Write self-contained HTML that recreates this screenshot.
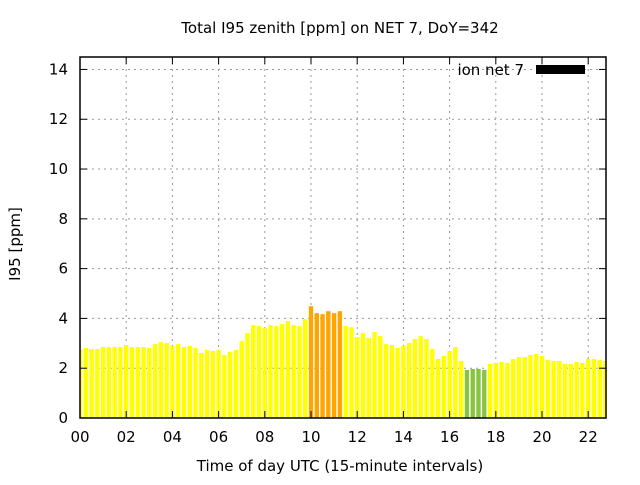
<!DOCTYPE html>
<html><head><meta charset="utf-8"><style>
body{margin:0;background:#fff}
svg text{font-family:"DejaVu Sans","Liberation Sans",sans-serif;font-size:15px;fill:#000}
</style></head><body>
<svg id="c" width="640" height="480" xmlns="http://www.w3.org/2000/svg">
<text x="340" y="33" text-anchor="middle">Total I95 zenith [ppm] on NET 7, DoY=342</text>
<text x="340" y="471" text-anchor="middle">Time of day UTC (15-minute intervals)</text>
<text transform="translate(20,244) rotate(-90)" text-anchor="middle">I95 [ppm]</text>
<g id="grid"></g><g id="bars"></g><g id="axes"></g>
<text x="524" y="75" text-anchor="end">ion net 7</text>
<rect x="536" y="65" width="49" height="9" fill="#000"/>
</svg>
<script>
const values=[2.77,2.81,2.77,2.77,2.85,2.85,2.85,2.85,2.93,2.85,2.85,2.85,2.81,2.97,3.05,3.01,2.89,2.97,2.85,2.89,2.81,2.61,2.73,2.69,2.73,2.53,2.65,2.73,3.09,3.41,
3.73,3.69,3.61,3.73,3.69,3.77,3.89,3.73,3.69,3.97,4.49,4.21,4.17,4.29,4.21,4.29,3.69,3.65,3.25,3.41,3.21,3.45,3.29,2.97,2.93,2.81,2.89,3.01,3.17,3.29,3.17,
2.77,2.37,2.49,2.69,2.85,2.29,1.93,1.97,1.97,1.93,2.17,2.21,2.25,2.21,2.37,2.45,2.45,2.53,2.57,2.49,2.33,2.29,2.29,2.17,2.17,2.25,2.21,2.37,2.37,2.33,2.29];
const yTicks=[0,2,4,6,8,10,12,14];
const xTicks=["00","02","04","06","08","10","12","14","16","18","20","22"];
const L=80,R=606,T=57,B=418,XMAX=22.77,YMAX=14.5;
const sx=h=>L+h*(R-L)/XMAX, sy=v=>B-v*(B-T)/YMAX;
const NS="http://www.w3.org/2000/svg";
function mk(tag,at,parent){const e=document.createElementNS(NS,tag);for(const k in at)e.setAttribute(k,at[k]);parent.appendChild(e);return e;}
const grid=document.getElementById('grid'),bars=document.getElementById('bars'),axes=document.getElementById('axes');
yTicks.forEach(v=>{const y=sy(v);
 if(v>0){const g=mk('line',{x1:L,x2:R,y1:y,y2:y,stroke:'#999','stroke-dasharray':'2,4'},grid);
 
 }
 mk('line',{x1:L,x2:L+7,y1:y,y2:y,stroke:'#000'},axes);mk('line',{x1:R,x2:R-7,y1:y,y2:y,stroke:'#000'},axes);
 const t=mk('text',{x:L-12,y:y+5,'text-anchor':'end'},axes);t.textContent=v;
 
 });
xTicks.forEach((s,i)=>{const x=sx(i*2);
 if(i>0){const g=mk('line',{x1:x,x2:x,y1:T,y2:B,stroke:'#999','stroke-dasharray':'2,4'},grid);
 
 }
 mk('line',{x1:x,x2:x,y1:B,y2:B-7,stroke:'#000'},axes);mk('line',{x1:x,x2:x,y1:T,y2:T+7,stroke:'#000'},axes);
 const t=mk('text',{x:x,y:B+24,'text-anchor':'middle'},axes);t.textContent=s;
 
 });
mk('defs',{},bars).innerHTML='<clipPath id="cp"><rect x="'+L+'" y="'+T+'" width="'+(R-L)+'" height="'+(B-T)+'"/></clipPath>';
bars.setAttribute('clip-path','url(#cp)');
const bw=0.19*(R-L)/XMAX;
values.forEach((v,i)=>{const x=sx(i*0.25);
 const col=v>=4?'#ffa500':(v<2?'#88c440':'#ffff00');
 const r=mk('rect',{x:x-bw/2,y:sy(v),width:bw,height:B-sy(v),fill:col},bars);
 
 });
const f=mk('rect',{x:L,y:T,width:R-L,height:B-T,fill:'none',stroke:'#000','stroke-width':1.5},axes);


</script>
</body></html>
